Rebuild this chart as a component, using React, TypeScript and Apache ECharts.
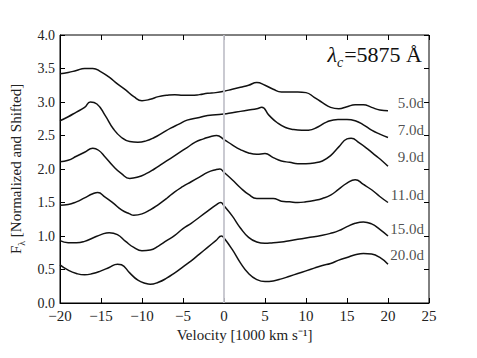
import React, { useEffect, useRef } from "react";
import * as echarts from "echarts";

const dayLabels = ["5.0d", "7.0d", "9.0d", "11.0d", "15.0d", "20.0d"];
const labelY = [2.99, 2.58, 2.18, 1.61, 1.1, 0.72];

const s5: number[][] = [[-20,3.42],[-19,3.44],[-18,3.47],[-17,3.5],[-16,3.5],[-15,3.45],[-14,3.37],[-13,3.27],[-12,3.18],[-11,3.08],[-10,3.02],[-9,3.04],[-8,3.08],[-7,3.1],[-6,3.11],[-5,3.1],[-4,3.1],[-3,3.11],[-2,3.13],[-1,3.14],[0,3.16],[1,3.19],[2,3.22],[3,3.25],[4,3.29],[5,3.25],[6,3.19],[7,3.15],[8,3.15],[9,3.15],[10,3.14],[11,3.07],[12,2.99],[13,2.92],[14,2.9],[15,2.93],[16,2.96],[17,2.96],[18,2.92],[19,2.88],[20,2.87]];
const s7: number[][] = [[-20,2.72],[-19,2.78],[-18,2.85],[-17,2.92],[-16.3,3.0],[-15.5,2.97],[-14.5,2.8],[-13.5,2.6],[-12.5,2.47],[-11.5,2.41],[-10.5,2.4],[-9.5,2.42],[-8.5,2.47],[-7.5,2.54],[-6.5,2.61],[-5.5,2.67],[-4.5,2.73],[-3,2.77],[-2,2.8],[-1,2.81],[0,2.82],[1,2.84],[2,2.86],[3,2.88],[4,2.9],[4.6,2.92],[5.5,2.8],[6.5,2.69],[7.5,2.62],[8.5,2.59],[9.5,2.58],[10.3,2.58],[11.5,2.63],[12.5,2.7],[13.9,2.74],[15,2.74],[16,2.72],[17,2.66],[18,2.58],[19,2.52],[20,2.47]];
const s9: number[][] = [[-20,2.11],[-19,2.13],[-18,2.19],[-17,2.25],[-16,2.31],[-15.3,2.28],[-14.5,2.18],[-13.5,2.04],[-12.5,1.93],[-11.5,1.86],[-10.5,1.88],[-9.5,1.93],[-8.5,2.0],[-7.5,2.08],[-6.5,2.16],[-5.5,2.24],[-4.5,2.32],[-3.5,2.4],[-2.5,2.45],[-1.5,2.49],[-0.9,2.5],[0,2.44],[1,2.36],[2,2.29],[3,2.24],[4,2.22],[5,2.23],[6,2.17],[7,2.12],[8,2.1],[9,2.08],[10,2.08],[11,2.09],[12,2.12],[13,2.2],[14,2.33],[15,2.45],[15.5,2.46],[16.5,2.39],[17.5,2.3],[18.5,2.2],[19.3,2.12],[20,2.04]];
const s11: number[][] = [[-20,1.46],[-19,1.47],[-18,1.51],[-17,1.57],[-16,1.63],[-15.4,1.65],[-14.5,1.58],[-13.5,1.49],[-12.5,1.39],[-11.5,1.33],[-11,1.31],[-10,1.33],[-9,1.39],[-8,1.47],[-7,1.56],[-6,1.66],[-5,1.74],[-4,1.81],[-3,1.88],[-2,1.95],[-1,1.99],[-0.5,2.0],[0,1.95],[1,1.84],[2,1.72],[3,1.62],[4,1.56],[5,1.56],[6,1.56],[7,1.52],[8,1.51],[9,1.5],[10,1.51],[11,1.53],[12,1.56],[13,1.61],[14,1.7],[15,1.79],[16,1.84],[17,1.77],[18,1.69],[19,1.59],[20,1.5]];
const s15: number[][] = [[-20,0.93],[-19,0.9],[-18,0.9],[-17,0.92],[-16,0.97],[-15,1.02],[-14,1.05],[-13,1.02],[-12,0.92],[-11,0.83],[-10,0.78],[-9,0.79],[-8,0.85],[-7,0.93],[-6,1.01],[-5,1.11],[-4,1.19],[-3,1.28],[-2,1.37],[-1,1.46],[-0.4,1.5],[0,1.45],[1,1.3],[2,1.12],[3,0.98],[4,0.91],[5,0.89],[6,0.9],[7,0.91],[8,0.93],[9,0.95],[10,0.97],[11,0.99],[12,1.01],[13,1.04],[14,1.08],[15,1.14],[16,1.19],[17,1.21],[18,1.18],[19,1.1],[20,1.0]];
const s20: number[][] = [[-20,0.57],[-19,0.49],[-18,0.44],[-17,0.42],[-16,0.44],[-15,0.48],[-14,0.53],[-13,0.58],[-12.5,0.57],[-11.5,0.45],[-10.5,0.34],[-9.5,0.29],[-9,0.28],[-8,0.31],[-7,0.37],[-6,0.45],[-5,0.54],[-4,0.63],[-3,0.73],[-2,0.83],[-1,0.93],[-0.3,1.0],[0,0.97],[1,0.8],[2,0.6],[3,0.44],[4,0.35],[5,0.32],[6,0.33],[7,0.36],[8,0.4],[9,0.44],[10,0.48],[11,0.52],[12,0.56],[13,0.59],[14,0.64],[15,0.68],[16,0.72],[17,0.74],[18,0.73],[19,0.68],[20,0.58]];

const spectra = [s5, s7, s9, s11, s15, s20];
const FONT = "Liberation Serif";

export default function App() {
  const ref = useRef<HTMLDivElement>(null);
  useEffect(() => {
    const chart = echarts.init(ref.current!, null, { renderer: "svg" });
    const fmtX = (v: number) => (v < 0 ? "\u2212" + Math.abs(v) : String(v));
    const lineSeries = spectra.map((d, i) => ({
      type: "line",
      data: d,
      smooth: 0.5,
      showSymbol: false,
      symbol: "none",
      lineStyle: { color: "#111", width: 1.5 },
      z: 3,
      ...(i === 0
        ? {
            markLine: {
              silent: true,
              symbol: "none",
              label: { show: false },
              lineStyle: { color: "#c4c4cc", width: 1.8, type: "solid" },
              data: [{ xAxis: 0 }],
            },
          }
        : {}),
    }));
    const labelSeries = {
      type: "scatter",
      symbolSize: 0,
      data: labelY.map((y, i) => ({ value: [25, y], name: dayLabels[i] })),
      label: {
        show: true,
        position: "left",
        distance: 5,
        formatter: (p: any) => p.name,
        fontFamily: FONT,
        fontSize: 15,
        color: "#222",
      },
      z: 4,
    };
    const tick = { show: true, inside: true, length: 5, lineStyle: { color: "#000" } };
    chart.setOption({
      animation: false,
      backgroundColor: "#fff",
      title: {
        text: "{l|λ}{c|c}{e|=5875 Å}",
        right: 50,
        top: 38,
        textStyle: {
          rich: {
            l: { fontFamily: FONT, fontStyle: "italic", fontWeight: "normal", fontSize: 22, color: "#111", verticalAlign: "bottom" },
            c: { fontFamily: FONT, fontStyle: "italic", fontWeight: "normal", fontSize: 14, color: "#111", verticalAlign: "bottom", padding: [0, 1, -4, 0] },
            e: { fontFamily: FONT, fontWeight: "normal", fontSize: 22, color: "#111", verticalAlign: "bottom" },
          },
        },
      },
      grid: {
        left: 60,
        right: 48,
        top: 35,
        bottom: 55,
        show: true,
        borderColor: "#000",
        borderWidth: 1,
      },
      xAxis: [
        {
          type: "value",
          min: -20,
          max: 25,
          interval: 5,
          position: "bottom",
          axisLine: { show: true, onZero: false, lineStyle: { color: "#000", width: 1 } },
          axisTick: tick,
          splitLine: { show: false },
          axisLabel: { formatter: fmtX, fontFamily: FONT, fontSize: 15, color: "#222", margin: 5 },
          name: "Velocity [1000 km s\u207B\u00B9]",
          nameLocation: "middle",
          nameGap: 19,
          nameTextStyle: { fontFamily: FONT, fontSize: 15, color: "#222" },
        },
        {
          type: "value",
          min: -20,
          max: 25,
          interval: 5,
          position: "top",
          axisLine: { show: false, onZero: false },
          axisTick: tick,
          splitLine: { show: false },
          axisLabel: { show: false },
        },
      ],
      yAxis: [
        {
          type: "value",
          min: 0,
          max: 4,
          interval: 0.5,
          position: "left",
          axisLine: { show: true, onZero: false, lineStyle: { color: "#000", width: 1 } },
          axisTick: tick,
          splitLine: { show: false },
          axisLabel: { formatter: (v: number) => v.toFixed(1), fontFamily: FONT, fontSize: 14, color: "#222", margin: 5 },
          name: "{f|F}{s|λ}{f| [Normalized and Shifted]}",
          nameLocation: "middle",
          nameGap: 24,
          nameTextStyle: {
            rich: {
              f: { fontFamily: FONT, fontSize: 15, color: "#222", verticalAlign: "bottom" },
              s: { fontFamily: FONT, fontSize: 10, color: "#222", verticalAlign: "bottom", padding: [0, 0, -3, 0] },
            },
          },
        },
        {
          type: "value",
          min: 0,
          max: 4,
          interval: 0.5,
          position: "right",
          axisLine: { show: false, onZero: false },
          axisTick: tick,
          splitLine: { show: false },
          axisLabel: { show: false },
        },
      ],
      series: [...lineSeries, labelSeries],
    });
    return () => chart.dispose();
  }, []);
  return <div ref={ref} style={{ width: 477, height: 358, position: "absolute", left: 0, top: 0 }} />;
}
